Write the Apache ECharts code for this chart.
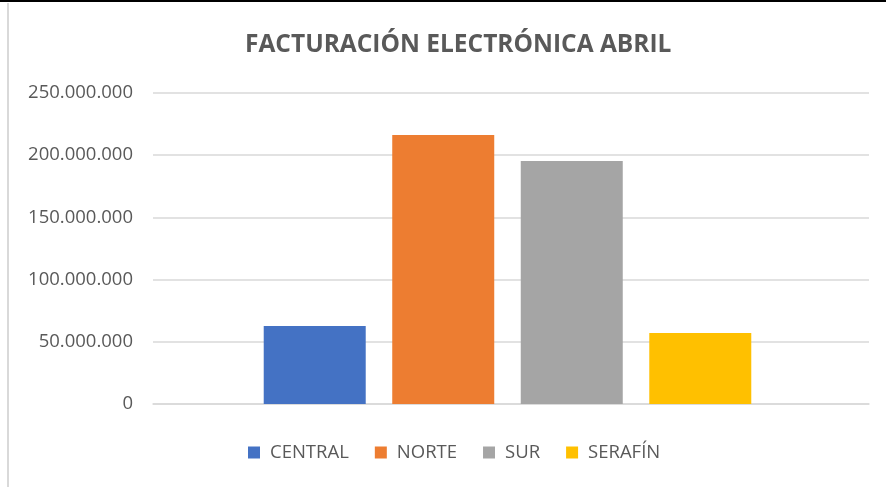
<!DOCTYPE html>
<html>
<head>
<meta charset="utf-8">
<script src="https://cdn.jsdelivr.net/npm/echarts@6/dist/echarts.min.js"></script>
<style>
html,body{margin:0;padding:0;background:#fff;}
#chart{width:886px;height:487px;}
</style>
</head>
<body>
<div id="chart"></div>
<script>
const categories = [''];
const seriesNames = ['CENTRAL', 'NORTE', 'SUR', 'SERAFÍN'];
const seriesValues = [62700000, 216200000, 195300000, 57100000];
const seriesColors = ['#4472C4', '#ED7D31', '#A5A5A5', '#FFC000'];
const yTicks = [0, 50000000, 100000000, 150000000, 200000000, 250000000];

const fmt = v => String(v).replace(/\B(?=(\d{3})+(?!\d))/g, '.');
const font = '"Open Sans", "Noto Sans", sans-serif';
const yMin = yTicks[0], yMax = yTicks[yTicks.length - 1], yInt = yTicks[1] - yTicks[0];

const chart = echarts.init(document.getElementById('chart'), null, {renderer: 'canvas'});
chart.setOption({
  animation: false,
  title: {
    text: 'FACTURACIÓN ELECTRÓNICA ABRIL',
    left: 240,
    top: 28,
    textStyle: {fontFamily: font, fontSize: 24.5, fontWeight: 'bold', color: '#595959'}
  },
  legend: {
    bottom: 20,
    left: 243,
    itemWidth: 12,
    itemHeight: 12,
    itemGap: 26,
    icon: 'rect',
    textStyle: {fontFamily: font, fontSize: 18.5, color: '#595959', padding: [0, 0, 0, 5]},
    data: seriesNames
  },
  grid: [
    {left: 153, right: 17, top: 93, bottom: 83, containLabel: false},
    {left: 146, right: 17, top: 93, bottom: 83, containLabel: false}
  ],
  xAxis: [
    {
      type: 'category', gridIndex: 0, data: categories,
      axisLine: {show: true, lineStyle: {color: '#D9D9D9', width: 1.5}},
      axisTick: {show: false}, axisLabel: {show: false}
    },
    {
      type: 'category', gridIndex: 1, data: categories,
      axisLine: {show: false}, axisTick: {show: false}, axisLabel: {show: false}
    }
  ],
  yAxis: [
    {
      type: 'value', gridIndex: 0, min: yMin, max: yMax, interval: yInt,
      axisLine: {show: false}, axisTick: {show: false},
      splitLine: {lineStyle: {color: '#D9D9D9', width: 1.5}},
      axisLabel: {formatter: fmt, margin: 20, fontFamily: font, fontSize: 18.5, color: '#595959'}
    },
    {
      type: 'value', gridIndex: 1, min: yMin, max: yMax, interval: yInt,
      axisLine: {show: false}, axisTick: {show: false},
      splitLine: {show: false}, axisLabel: {show: false}
    }
  ],
  series: seriesNames.map((n, i) => ({
    name: n,
    type: 'bar',
    xAxisIndex: 1,
    yAxisIndex: 1,
    data: [seriesValues[i]],
    barWidth: 102,
    barGap: '26%',
    itemStyle: {color: seriesColors[i]}
  })),
  graphic: [
    {type: 'rect', shape: {x: 0, y: 0, width: 886, height: 2}, style: {fill: '#000'}},
    {type: 'rect', shape: {x: 7, y: 3, width: 2, height: 484}, style: {fill: '#D9D9D9'}}
  ]
});
</script>
</body>
</html>
